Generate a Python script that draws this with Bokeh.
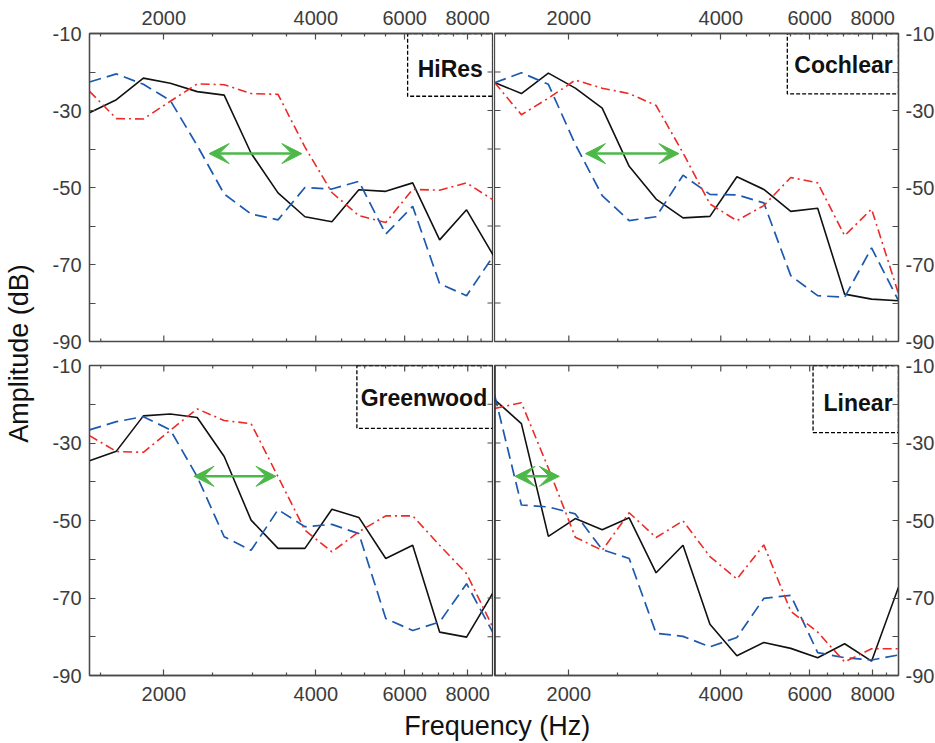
import math
from bokeh.plotting import figure
from bokeh.layouts import row, column
from bokeh.models import (Range1d, LogAxis, LinearAxis, FixedTicker, NumeralTickFormatter,
                          BoxAnnotation, Label, Arrow, VeeHead, Span)
from bokeh.embed import file_html
from bokeh.resources import INLINE

# ---------------- data ----------------
freq = [1425, 1611, 1822, 2060, 2329, 2634, 2978, 3367, 3807, 4305, 4868, 5504, 6223, 7037, 7957, 8997]

panel_names = ["HiRes", "Cochlear", "Greenwood", "Linear"]

hires_black = [-30.6, -27.2, -21.6, -22.9, -25.1, -26.0, -41.1, -51.4, -57.6, -58.9, -50.6, -51.0, -48.8, -63.6, -55.8, -67.7]
hires_blue = [-22.6, -20.5, -23.2, -27.4, -39.1, -51.7, -56.9, -58.4, -50.0, -50.4, -48.4, -62.1, -54.9, -75.0, -78.1, -67.7]
hires_red = [-25.0, -32.1, -32.2, -27.6, -23.1, -23.3, -25.6, -25.8, -39.5, -51.3, -57.3, -59.1, -50.5, -50.7, -48.8, -53.3]

cochlear_black = [-22.7, -25.6, -20.3, -24.2, -29.4, -44.5, -53.0, -57.9, -57.5, -47.2, -50.5, -56.2, -55.4, -77.7, -79.0, -79.4]
cochlear_blue = [-22.8, -20.2, -23.2, -38.8, -52.1, -58.6, -57.6, -46.8, -51.8, -51.9, -54.0, -72.9, -78.1, -78.5, -65.7, -79.4]
cochlear_red = [-22.7, -31.1, -26.8, -22.1, -24.2, -25.6, -28.7, -41.0, -54.3, -58.6, -54.7, -47.4, -48.8, -62.5, -55.6, -77.6]

greenwood_black = [-34.6, -32.1, -23.0, -22.5, -23.4, -33.5, -49.9, -57.2, -57.2, -47.1, -49.2, -59.8, -56.4, -78.8, -80.1, -68.4]
greenwood_blue = [-26.6, -24.5, -23.2, -26.6, -38.7, -54.2, -57.7, -47.2, -51.6, -51.0, -53.4, -75.3, -78.4, -76.2, -66.3, -79.2]
greenwood_red = [-28.1, -32.2, -32.4, -26.7, -21.2, -24.2, -25.0, -38.7, -52.5, -58.1, -52.9, -48.8, -48.8, -56.4, -63.7, -77.9]

linear_black = [-18.8, -25.0, -54.1, -49.5, -52.4, -49.3, -63.5, -56.4, -76.8, -84.9, -81.5, -83.0, -85.4, -81.8, -86.3, -67.2]
linear_blue = [-17.5, -46.0, -46.5, -48.3, -57.5, -59.8, -79.1, -79.9, -82.6, -80.2, -70.1, -69.3, -84.1, -85.4, -86.0, -84.7]
linear_red = [-21.1, -19.6, -36.5, -54.3, -57.7, -48.0, -54.4, -50.1, -59.3, -65.1, -56.3, -73.4, -78.8, -86.5, -83.1, -83.1]

x_ticks = [2000, 4000, 6000, 8000]
x_minor_ticks = [1500, 2500, 3000, 3500, 4500, 5000, 5500, 6500, 7000, 7500, 8500]
y_ticks = [-90, -70, -50, -30, -10]
y_minor_ticks = [-80, -60, -40, -20]
y_min, y_max = -90, -10

arrow_lo = [2459, 2158, 2295, 1565]
arrow_hi = [3754, 3305, 3336, 1915]
arrow_y = [-41.2, -41.2, -38.6, -38.6]

box_left = [6081, 5418, 4825, 6093]
box_bottom = [-26.3, -25.7, -26.2, -27.3]
name_x = [7387, 7001, 6551, 7482]
name_y = [-19.3, -18.2, -18.4, -19.7]

series = [
    (hires_black, hires_blue, hires_red),
    (cochlear_black, cochlear_blue, cochlear_red),
    (greenwood_black, greenwood_blue, greenwood_red),
    (linear_black, linear_blue, linear_red),
]

# ---------------- style ----------------
FONT = "Liberation Sans"
AX = "#4a4a4a"
LAB = "#3c3c3c"
BLACK = "#111111"
BLUE = "#1d59ad"
RED = "#ec2a26"
GREEN = "#4cb848"


def style_axis(ax, standoff, minor_len):
    ax.axis_line_color = AX
    ax.axis_line_width = 1.3
    ax.major_tick_line_color = AX
    ax.minor_tick_line_color = AX
    ax.major_tick_line_width = 1.2
    ax.minor_tick_line_width = 1.2
    ax.major_tick_in = 6
    ax.major_tick_out = 0
    ax.minor_tick_in = minor_len
    ax.minor_tick_out = 0
    ax.major_label_text_font = FONT
    ax.major_label_text_color = LAB
    ax.major_label_text_font_size = "20px"
    ax.major_label_standoff = standoff


def inner_ticks(p, side):
    # tick marks on the inner (unlabelled) frame sides: half of each dash is clipped by the frame
    if side in ("left", "right"):
        xe = freq[0] if side == "left" else freq[-1]
        yt = y_ticks + y_minor_ticks
        p.scatter([xe] * len(yt), yt, marker="dash", size=12,
                  line_color=AX, line_width=1.2)
    else:
        ye = y_max if side == "top" else y_min
        p.scatter(x_ticks, [ye] * len(x_ticks), marker="dash", angle=math.pi / 2, size=12,
                  line_color=AX, line_width=1.2)
        p.scatter(x_minor_ticks, [ye] * len(x_minor_ticks), marker="dash", angle=math.pi / 2,
                  size=6, line_color=AX, line_width=1.2)


def make_panel(i, fh, mb_left, mb_top, mb_bottom, x_side, y_side, inner_x, inner_y,
               thick_edge=None):
    p = figure(frame_width=404, frame_height=fh,
               x_axis_type="log", x_range=Range1d(freq[0], freq[-1]),
               y_range=Range1d(y_min, y_max),
               x_axis_location=None, y_axis_location=None,
               toolbar_location=None, output_backend="svg",
               min_border_left=mb_left, min_border_right=0,
               min_border_top=mb_top, min_border_bottom=mb_bottom,
               outline_line_color=AX, outline_line_width=1.3,
               background_fill_color="white", border_fill_color="white")
    p.grid.grid_line_color = None

    xa = LogAxis(ticker=FixedTicker(ticks=x_ticks, minor_ticks=x_minor_ticks),
                 formatter=NumeralTickFormatter(format="0"))
    style_axis(xa, 9 if x_side == "above" else 11, 3)
    p.add_layout(xa, x_side)
    ya = LinearAxis(ticker=FixedTicker(ticks=y_ticks, minor_ticks=y_minor_ticks),
                    formatter=NumeralTickFormatter(format="0"))
    style_axis(ya, 8 if y_side == "left" else 7, 6)
    p.add_layout(ya, y_side)

    black, blue, red = series[i]
    p.line(freq, black, line_color=BLACK, line_width=1.6)
    p.line(freq, blue, line_color=BLUE, line_width=1.7, line_dash="12 6")
    p.line(freq, red, line_color=RED, line_width=1.6, line_dash="9 4 2 4")

    inner_ticks(p, inner_x)
    inner_ticks(p, inner_y)

    if thick_edge is not None:
        p.add_layout(Span(location=thick_edge, dimension="height",
                          line_color="#333333", line_width=2.6))

    p.add_layout(BoxAnnotation(left=box_left[i], bottom=box_bottom[i],
                               fill_color=None, fill_alpha=0,
                               line_color="#000000", line_alpha=1.0,
                               line_width=1.3, line_dash="4 2",
                               level="underlay"))
    p.add_layout(Label(x=name_x[i], y=name_y[i], text=panel_names[i],
                       text_font=FONT, text_font_size="23px", text_font_style="bold",
                       text_color="#111111", text_align="center", text_baseline="middle"))
    p.add_layout(Arrow(x_start=arrow_lo[i], y_start=arrow_y[i],
                       x_end=arrow_hi[i], y_end=arrow_y[i],
                       line_color=GREEN, line_width=2.5,
                       start=VeeHead(size=20, fill_color=GREEN, line_color=GREEN),
                       end=VeeHead(size=20, fill_color=GREEN, line_color=GREEN)))
    return p


tl = make_panel(0, 308, 47, 33, 12, "above", "left", "bottom", "right")
tr = make_panel(1, 308, 1, 33, 12, "above", "right", "bottom", "left")
bl = make_panel(2, 310, 47, 12, 35, "below", "left", "top", "right", thick_edge=freq[-1])
br = make_panel(3, 310, 1, 12, 35, "below", "right", "top", "left", thick_edge=freq[0])

# shared axis titles
YL_H = 353 + 357
ylab = figure(width=42, height=YL_H, x_range=Range1d(0, 42), y_range=Range1d(0, YL_H),
              x_axis_location=None, y_axis_location=None, toolbar_location=None,
              output_backend="svg", min_border=0, outline_line_color=None)
ylab.grid.grid_line_color = None
ylab.add_layout(Label(x=18.6, y=YL_H - 353, text="Amplitude (dB)", angle=math.pi / 2,
                      text_font=FONT, text_font_size="27px", text_color="#111111",
                      text_align="center", text_baseline="middle"))

XL_H = 33
xlab = figure(width=930, height=XL_H, x_range=Range1d(0, 930), y_range=Range1d(0, XL_H),
              x_axis_location=None, y_axis_location=None, toolbar_location=None,
              output_backend="svg", min_border=0, outline_line_color=None)
xlab.grid.grid_line_color = None
xlab.add_layout(Label(x=496.7, y=17.4, text="Frequency (Hz)",
                      text_font=FONT, text_font_size="27px", text_color="#111111",
                      text_align="center", text_baseline="middle"))

layout = column(row(ylab, column(row(tl, tr), row(bl, br))), xlab)

with open("out.html", "w") as f:
    f.write(file_html(layout, INLINE))
